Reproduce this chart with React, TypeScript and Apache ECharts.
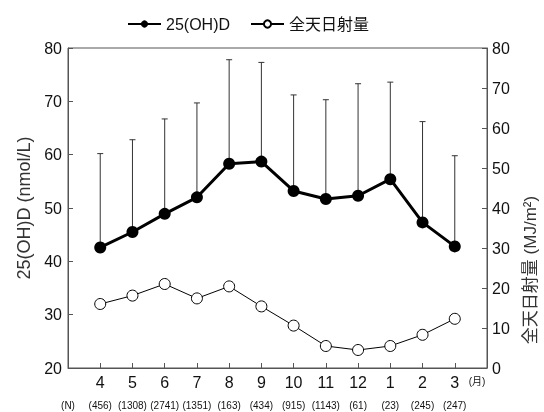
import React, { useEffect, useRef } from "react";
import * as echarts from "echarts";

const months = ["4", "5", "6", "7", "8", "9", "10", "11", "12", "1", "2", "3"];
const counts = ["456", "1308", "2741", "1351", "163", "434", "915", "1143", "61", "23", "245", "247"];
const vitD = [42.6, 45.5, 48.9, 52.0, 58.3, 58.7, 53.2, 51.7, 52.3, 55.4, 47.3, 42.8];
const vitDUpper = [60.2, 62.8, 66.7, 69.7, 77.8, 77.3, 71.2, 70.3, 73.3, 73.6, 66.2, 59.8];
const radiation = [16.0, 18.1, 21.0, 17.4, 20.4, 15.4, 10.6, 5.5, 4.5, 5.5, 8.3, 12.3];
const leftTicks = { min: 20, max: 80, interval: 10 };
const rightTicks = { min: 0, max: 80, interval: 10 };

const FONT = '"Liberation Sans", "Noto Sans CJK JP", sans-serif';

export default function App() {
  const ref = useRef<HTMLDivElement>(null);
  useEffect(() => {
    if (!ref.current) return;
    const chart = echarts.init(ref.current, undefined, { renderer: "svg" });
    const cats = ["", ...months, ""];
    const option: any = {
      animation: false,
      textStyle: { fontFamily: FONT },
      grid: { left: 68, right: 57, top: 48, bottom: 44, show: true, borderColor: "#555", borderWidth: 1 },
      legend: {
        left: 122,
        top: 11,
        itemWidth: 33,
        itemHeight: 9,
        itemGap: 20,
        data: ["25(OH)D", "全天日射量"],
        textStyle: { fontSize: 16, color: "#111", fontFamily: FONT },
      },
      xAxis: {
        type: "category",
        data: cats,
        boundaryGap: false,
        axisLine: { lineStyle: { color: "#555", width: 1 } },
        axisTick: { inside: true, length: 5, interval: 0, lineStyle: { color: "#555" } },
        axisLabel: {
          interval: 0,
          margin: 4,
          showMinLabel: true,
          showMaxLabel: true,
          formatter: (value: string, index: number) => {
            if (index === 0) return "{m| }\n{n|(N)}";
            if (index === cats.length - 1) return "";
            return `{m|${value}}\n{n|(${counts[index - 1]})}`;
          },
          rich: {
            m: { fontSize: 16, lineHeight: 20, color: "#111", fontFamily: FONT },
            n: { fontSize: 10, lineHeight: 27, color: "#111", fontFamily: FONT },
          },
        },
        splitLine: { show: false },
      },
      yAxis: [
        {
          type: "value",
          ...leftTicks,
          position: "left",
          name: "25(OH)D (nmol/L)",
          nameLocation: "middle",
          nameGap: 34,
          nameTextStyle: { fontSize: 18, color: "#333", fontFamily: FONT },
          axisLine: { show: true, lineStyle: { color: "#555" } },
          axisTick: { show: true, inside: true, length: 5, lineStyle: { color: "#555" } },
          axisLabel: { fontSize: 16, color: "#111", margin: 6 },
          splitLine: { show: false },
        },
        {
          type: "value",
          ...rightTicks,
          position: "right",
          axisLine: { show: true, lineStyle: { color: "#555" } },
          axisTick: { show: true, inside: true, length: 5, lineStyle: { color: "#555" } },
          axisLabel: { fontSize: 16, color: "#111", margin: 5 },
          splitLine: { show: false },
        },
      ],
      graphic: [
        {
          type: "text",
          x: 477,
          y: 381,
          style: { text: "(月)", fontSize: 10, fill: "#111", align: "center", verticalAlign: "middle", fontFamily: FONT },
        },
        {
          type: "text",
          x: 530,
          y: 270,
          rotation: Math.PI / 2,
          style: {
            text: "全天日射量 (MJ/m²)",
            fontSize: 17,
            fill: "#333",
            align: "center",
            verticalAlign: "middle",
            fontFamily: FONT,
          },
        },
      ],
      series: [
        {
          name: "errbar",
          type: "custom",
          yAxisIndex: 0,
          z: 1,
          data: vitD.map((v, i) => [i + 1, v, vitDUpper[i]]),
          renderItem: (params: any, api: any) => {
            const p0 = api.coord([api.value(0), api.value(1)]);
            const p1 = api.coord([api.value(0), api.value(2)]);
            const st = { stroke: "#333", lineWidth: 1 };
            return {
              type: "group",
              children: [
                { type: "line", shape: { x1: p0[0], y1: p0[1], x2: p1[0], y2: p1[1] }, style: st },
                { type: "line", shape: { x1: p1[0] - 3, y1: p1[1], x2: p1[0] + 3, y2: p1[1] }, style: st },
              ],
            };
          },
        },
        {
          name: "25(OH)D",
          type: "line",
          yAxisIndex: 0,
          z: 3,
          data: vitD.map((v, i) => [i + 1, v]),
          symbol: "circle",
          symbolSize: 12,
          itemStyle: { color: "#000" },
          lineStyle: { color: "#000", width: 3 },
        },
        {
          name: "全天日射量",
          type: "line",
          yAxisIndex: 1,
          z: 3,
          data: radiation.map((v, i) => [i + 1, v]),
          symbol: "circle",
          symbolSize: 11,
          itemStyle: { color: "#fff", borderColor: "#000", borderWidth: 1 },
          lineStyle: { color: "#000", width: 1 },
        },
      ],
    };
    chart.setOption(option);
    return () => chart.dispose();
  }, []);
  return <div ref={ref} style={{ position: "fixed", left: 0, top: 0, width: 544, height: 412 }} />;
}
